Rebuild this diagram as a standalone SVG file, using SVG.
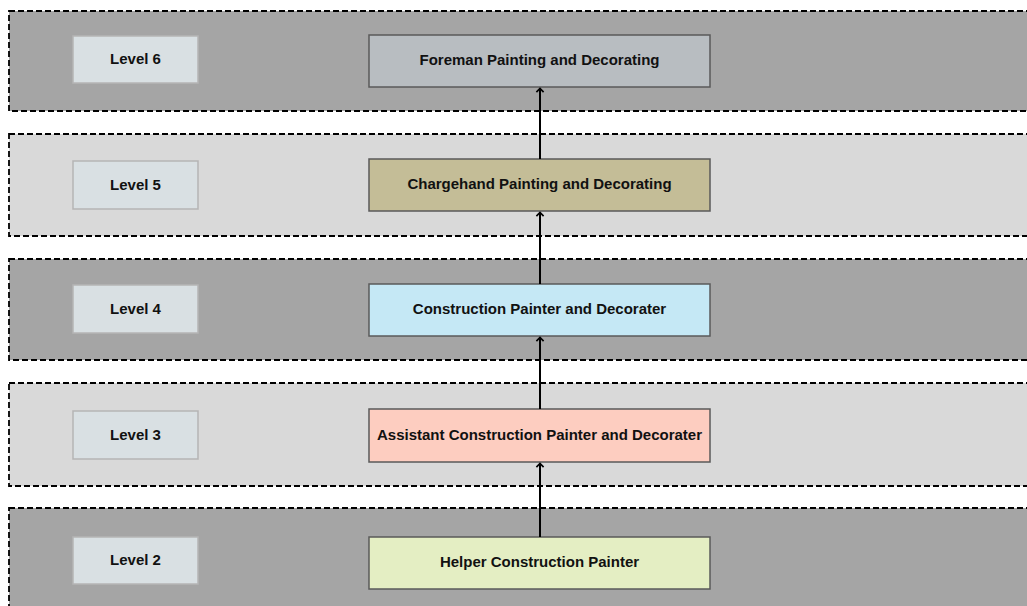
<svg xmlns="http://www.w3.org/2000/svg" width="1027" height="606" viewBox="0 0 1027 606">
<defs>
<marker id="arr" markerWidth="10" markerHeight="10" refX="8.6" refY="5" orient="auto" markerUnits="userSpaceOnUse" viewBox="0 0 10 10">
<path d="M5,1.4 L8.6,5 L5,8.6" fill="none" stroke="#000" stroke-width="1.7"/>
</marker>
</defs>
<style>
.band{stroke:#000;stroke-width:1.8;stroke-dasharray:6,3}
.dark{fill:#a5a5a5}
.light{fill:#d9d9d9}
.lvl{fill:#d9e0e3;stroke:#b5b5b5;stroke-width:1.5}
.box{stroke:#5a5a5a;stroke-width:1.5}
.t{font-family:"Liberation Sans",Arial,sans-serif;font-weight:bold;font-size:15px;fill:#111;text-anchor:middle;dominant-baseline:central}
.c{stroke:#000;stroke-width:2;fill:none}
</style>
<rect width="1027" height="606" fill="#fff"/>
<g id="bands">
<rect class="band dark" x="9" y="11" width="1030" height="100"/>
<rect class="band light" x="9" y="134" width="1030" height="102"/>
<rect class="band dark" x="9" y="259" width="1030" height="101"/>
<rect class="band light" x="9" y="383" width="1030" height="103"/>
<rect class="band dark" x="9" y="508" width="1030" height="110"/>
</g>
<g id="level6"><rect class="lvl" x="73" y="36" width="125" height="47"/><text class="t" x="135.5" y="58.5">Level 6</text></g>
<g id="level5"><rect class="lvl" x="73" y="161" width="125" height="48"/><text class="t" x="135.5" y="184">Level 5</text></g>
<g id="level4"><rect class="lvl" x="73" y="285" width="125" height="48"/><text class="t" x="135.5" y="308">Level 4</text></g>
<g id="level3"><rect class="lvl" x="73" y="411" width="125" height="48"/><text class="t" x="135.5" y="434">Level 3</text></g>
<g id="level2"><rect class="lvl" x="73" y="537" width="125" height="47"/><text class="t" x="135.5" y="559.5">Level 2</text></g>
<g id="foreman"><rect class="box" x="369" y="35" width="341" height="52" fill="#b8bdc1"/><text class="t" x="539.5" y="59.5">Foreman Painting and Decorating</text></g>
<g id="chargehand"><rect class="box" x="369" y="159" width="341" height="52" fill="#c4bd97"/><text class="t" x="539.5" y="183.5">Chargehand Painting and Decorating</text></g>
<g id="painter"><rect class="box" x="369" y="284" width="341" height="52" fill="#c5e8f5"/><text class="t" x="539.5" y="308.5">Construction Painter and Decorater</text></g>
<g id="assistant"><rect class="box" x="369" y="409" width="341" height="53" fill="#fdcdc0"/><text class="t" x="539.5" y="434">Assistant Construction Painter and Decorater</text></g>
<g id="helper"><rect class="box" x="369" y="537" width="341" height="52" fill="#e4eec3"/><text class="t" x="539.5" y="561.5">Helper Construction Painter</text></g>
<g id="connectors">
<line class="c" x1="540" y1="537" x2="540" y2="463.5" marker-end="url(#arr)"/>
<line class="c" x1="540" y1="409" x2="540" y2="337.5" marker-end="url(#arr)"/>
<line class="c" x1="540" y1="284" x2="540" y2="212.5" marker-end="url(#arr)"/>
<line class="c" x1="540" y1="159" x2="540" y2="88.5" marker-end="url(#arr)"/>
</g>
</svg>
